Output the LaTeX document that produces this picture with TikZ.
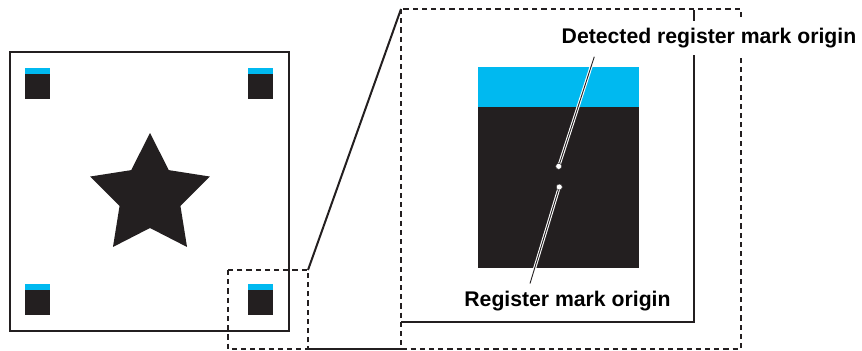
\documentclass[tikz,border=0pt]{standalone}
\usepackage{fontspec}
\setmainfont{Liberation Sans}
\usetikzlibrary{calc}
\definecolor{mkcyan}{RGB}{0,185,240}
\definecolor{mkblack}{RGB}{35,31,32}
\tikzset{
  frameline/.style={draw=mkblack,line width=0.7pt},
  dashbox/.style={draw=mkblack,line width=0.55pt,dash pattern=on 2.6pt off 2pt},
  linkline/.style={draw=mkblack,line width=1pt},
  leader/.style={draw=mkblack,line width=0.45pt,preaction={draw=white,line width=1.5pt}},
  lbl/.style={font=\bfseries\fontsize{10.6pt}{12pt}\selectfont,text=black,fill=white,inner xsep=1pt,inner ysep=3.5pt},
  dotmark/.style={circle,fill=white,draw=mkblack,line width=0.2pt,inner sep=0pt,minimum size=3pt}
}
\begin{document}
\begin{tikzpicture}[x=0.5pt,y=-0.5pt]
\useasboundingbox (0,0) rectangle (862,350);
% left sheet
\draw[frameline] (10,52) rectangle (289,331);
% small register marks
\foreach \mx/\my in {25/68,248/68,25/284,248/284}{
  \fill[mkblack] (\mx,\my) rectangle ++(25,31);
  \fill[mkcyan] (\mx,\my) rectangle ++(25,6);
}
% star
\fill[mkblack]
  ([shift={(150,196)}]-90:63) -- ([shift={(150,196)}]-54:32) --
  ([shift={(150,196)}]-18:63) -- ([shift={(150,196)}]18:32) --
  ([shift={(150,196)}]54:63) -- ([shift={(150,196)}]90:32) --
  ([shift={(150,196)}]126:63) -- ([shift={(150,196)}]162:32) --
  ([shift={(150,196)}]198:63) -- ([shift={(150,196)}]234:32) -- cycle;
% zoom boxes
\coordinate (sTL) at (228,270); \coordinate (sBR) at (308,349);
\coordinate (sTR) at (308,270);
\coordinate (bTL) at (401,9); \coordinate (bBR) at (741,349);
\coordinate (bBL) at (401,349);
\draw[dashbox] (sTL) rectangle (sBR);
\draw[dashbox] (bTL) rectangle (bBR);
\draw[linkline] (sTR) -- (bTL);
\draw[linkline] (sBR) -- (bBL);
% magnified sheet corner
\coordinate (fA) at (401,322); \coordinate (fB) at (694,322); \coordinate (fC) at (694,9.5);
\draw[frameline] (fA) -- (fB) -- (fC);
% magnified mark
\fill[mkblack] (478,67) rectangle (639,268);
\fill[mkcyan] (478,67) rectangle (639,107);
% labels
\node[lbl,anchor=base] (det) at (709,43) {Detected register mark origin};
\node[lbl,anchor=base] (reg) at (567.5,306.5) {Register mark origin};
% origins
\node[dotmark] (dorig) at (558.7,166.3) {};
\node[dotmark] (rorig) at (559.3,187) {};
\coordinate (detEnd) at (594.3,56.7);
\coordinate (regEnd) at (530,283.5);
\draw[leader] (detEnd) -- (dorig.center);
\draw[leader] (rorig.center) -- (regEnd);
\node[dotmark] at (dorig) {};
\node[dotmark] at (rorig) {};
\end{tikzpicture}
\end{document}
